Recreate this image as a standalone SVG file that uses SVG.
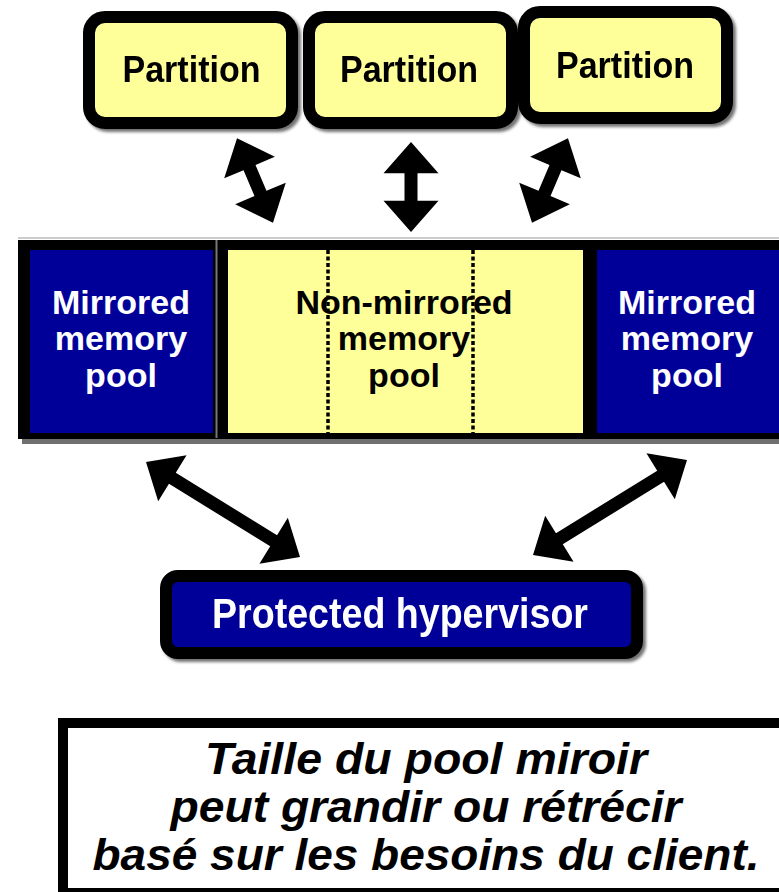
<svg xmlns="http://www.w3.org/2000/svg" xmlns:xlink="http://www.w3.org/1999/xlink" width="779" height="892" viewBox="0 0 779 892">
<style>
.part{fill:#ffff99;stroke:#000;stroke-width:12}
.ptxt{font-family:"Liberation Sans",Arial,sans-serif;font-weight:bold;font-size:36px;fill:#000;text-anchor:middle}
.wtxt{font-family:"Liberation Sans",Arial,sans-serif;font-weight:bold;font-size:34px;fill:#fff;text-anchor:middle}
.btxt{font-family:"Liberation Sans",Arial,sans-serif;font-weight:bold;font-size:34px;fill:#000;text-anchor:middle}
.htxt{font-family:"Liberation Sans",Arial,sans-serif;font-weight:bold;font-size:43px;fill:#fff;text-anchor:middle}
.note{font-family:"Liberation Sans",Arial,sans-serif;font-weight:bold;font-style:italic;font-size:45px;fill:#000;text-anchor:middle}
.dot{stroke:#000;stroke-width:3.5;stroke-dasharray:4 2.5;fill:none}
.arr{fill:#000}
</style>
<defs>
<filter id="sh" x="-10%" y="-10%" width="130%" height="130%">
<feDropShadow dx="3" dy="3" stdDeviation="1.5" flood-color="#000" flood-opacity="0.55"/>
</filter>
<polygon id="dblS" points="0,-46 27.5,-14 6.5,-14 6.5,14 27.5,14 0,46 -27.5,14 -6.5,14 -6.5,-14 -27.5,-14"/>
<polygon id="dblL" points="0,-90.5 27,-59.5 6.5,-59.5 6.5,59.5 27,59.5 0,90.5 -27,59.5 -6.5,59.5 -6.5,-59.5 -27,-59.5"/>
</defs>
<rect width="779" height="892" fill="#fff"/>

<g id="partition1" filter="url(#sh)">
<rect class="part" x="89" y="17" width="203" height="106" rx="16"/>
<text class="ptxt" x="191.5" y="82" textLength="138" lengthAdjust="spacingAndGlyphs">Partition</text>
</g>
<g id="partition2" filter="url(#sh)">
<rect class="part" x="309" y="17" width="203" height="106" rx="16"/>
<text class="ptxt" x="409" y="82" textLength="138" lengthAdjust="spacingAndGlyphs">Partition</text>
</g>
<g id="partition3" filter="url(#sh)">
<rect class="part" x="524" y="12" width="203" height="106" rx="16"/>
<text class="ptxt" x="625" y="78" textLength="138" lengthAdjust="spacingAndGlyphs">Partition</text>
</g>

<g id="memory-bar">
<line x1="18" y1="238" x2="779" y2="238" stroke="#bbb" stroke-width="1.5"/>
<rect x="22" y="244" width="790" height="200" fill="#111" opacity="0.6"/>
<rect x="18" y="240" width="790" height="199" fill="#000"/>
<line x1="216.5" y1="240" x2="216.5" y2="438" stroke="#777" stroke-width="2"/>
</g>
<g id="mirrored-left">
<rect x="30" y="250" width="183" height="183" fill="#000099"/>
<text class="wtxt" x="121" y="314">Mirrored</text>
<text class="wtxt" x="121" y="350">memory</text>
<text class="wtxt" x="121" y="387">pool</text>
</g>
<g id="non-mirrored">
<rect x="228" y="250" width="355" height="183" fill="#ffff99"/>
<text class="btxt" x="404" y="314">Non-mirrored</text>
<text class="btxt" x="404" y="350">memory</text>
<text class="btxt" x="404" y="387">pool</text>
<line class="dot" x1="328" y1="250" x2="328" y2="433"/>
<line class="dot" x1="473" y1="250" x2="473" y2="433"/>
</g>
<g id="mirrored-right">
<rect x="597" y="250" width="200" height="183" fill="#000099"/>
<text class="wtxt" x="687" y="314">Mirrored</text>
<text class="wtxt" x="687" y="350">memory</text>
<text class="wtxt" x="687" y="387">pool</text>
</g>

<g id="hypervisor" filter="url(#sh)">
<rect x="166" y="576" width="471" height="77" rx="12" fill="#000099" stroke="#000" stroke-width="12"/>
<text class="htxt" x="400" y="628" textLength="376" lengthAdjust="spacingAndGlyphs">Protected hypervisor</text>
</g>

<g id="connectors" class="arr">
<use xlink:href="#dblS" transform="translate(255,180.5) rotate(-23)"/>
<use xlink:href="#dblS" transform="translate(411,187) scale(1,0.98)"/>
<use xlink:href="#dblS" transform="translate(550,180.5) rotate(23)"/>
<use xlink:href="#dblL" transform="translate(223,509.5) rotate(-58.3)"/>
<use xlink:href="#dblL" transform="translate(610,507.5) rotate(58.3)"/>
</g>

<g id="note">
<rect x="63" y="723" width="800" height="170" fill="#fff" stroke="#000" stroke-width="10"/>
<text class="note" x="426" y="774" textLength="442" lengthAdjust="spacingAndGlyphs">Taille du pool miroir</text>
<text class="note" x="426" y="822" textLength="511" lengthAdjust="spacingAndGlyphs">peut grandir ou rétrécir</text>
<text class="note" x="426" y="870" textLength="667" lengthAdjust="spacingAndGlyphs">basé sur les besoins du client.</text>
</g>
</svg>
